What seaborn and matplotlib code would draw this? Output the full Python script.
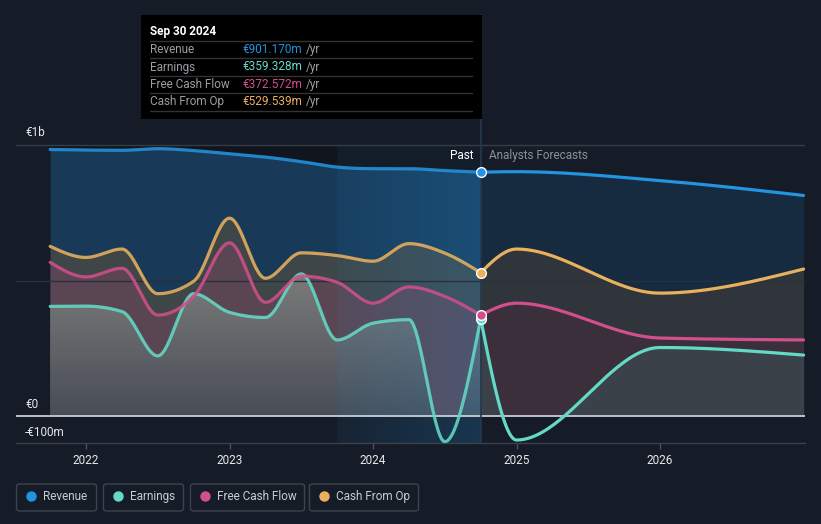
import numpy as np
import pandas as pd
import matplotlib
matplotlib.use("Agg")
import matplotlib.pyplot as plt
import seaborn as sns
from matplotlib.patches import Rectangle, FancyBboxPatch
from matplotlib.lines import Line2D

# ---------------- data (EUR m) ----------------
past_x = [2021.75, 2022.0, 2022.25, 2022.5, 2022.75, 2023.0, 2023.25, 2023.5,
          2023.75, 2024.0, 2024.25, 2024.5, 2024.75]
revenue_past = [985, 983, 982, 988, 981, 969, 957, 940, 920, 914, 914, 907, 901.17]
earnings_past = [405, 406, 386, 222, 452, 383, 364, 525, 281, 343, 356, -95, 359.33]
fcf_past = [568, 514, 546, 373, 442, 640, 420, 517, 494, 417, 477, 442, 372.57]
cfo_past = [627, 586, 617, 452, 498, 731, 509, 603, 593, 572, 637, 602, 529.54]

fc_x = [2024.75, 2025.0, 2026.0, 2027.0]
revenue_fc = [901.17, 903, 870, 815]
earnings_fc = [359.33, -89, 253, 225]
fcf_fc = [372.57, 417, 288, 281]
cfo_fc = [529.54, 617, 454, 543]

series_names = ["Revenue", "Earnings", "Free Cash Flow", "Cash From Op"]
series_colors = ["#2394df", "#64d9c6", "#d14f8b", "#e9b15d"]
tooltip_values = ["€901.170m", "€359.328m", "€372.572m", "€529.539m"]
year_ticks = [2022, 2023, 2024, 2025, 2026]
y_labels = {1000: "€1b", 0: "€0", -100: "-€100m"}

BG = "#161c27"
W, H = 821, 524


def monotone(x, y, per=80):
    """d3 curveMonotoneX style interpolation."""
    x = np.asarray(x, float)
    y = np.asarray(y, float)
    n = len(x)
    h = np.diff(x)
    s = np.diff(y) / h
    t = np.zeros(n)
    sg = lambda v: -1.0 if v < 0 else 1.0
    for i in range(1, n - 1):
        h0, h1, s0, s1 = h[i - 1], h[i], s[i - 1], s[i]
        p = (s0 * h1 + s1 * h0) / (h0 + h1)
        t[i] = (sg(s0) + sg(s1)) * min(abs(s0), abs(s1), 0.5 * abs(p))
    if n > 2:
        t[0] = (3 * s[0] - t[1]) / 2
        t[-1] = (3 * s[-1] - t[-2]) / 2
    else:
        t[:] = s[0]
    xs, ys = [], []
    for i in range(n - 1):
        u = np.linspace(0, 1, per, endpoint=(i == n - 2))
        h00 = 2 * u**3 - 3 * u**2 + 1
        h10 = u**3 - 2 * u**2 + u
        h01 = -2 * u**3 + 3 * u**2
        h11 = u**3 - u**2
        xs.append(x[i] + u * h[i])
        ys.append(h00 * y[i] + h10 * h[i] * t[i] + h01 * y[i + 1] + h11 * h[i] * t[i + 1])
    return np.concatenate(xs), np.concatenate(ys)


sns.set_theme(style="dark")
plt.rcParams["font.family"] = ["Roboto", "DejaVu Sans"]

fig = plt.figure(figsize=(W / 100, H / 100), dpi=100, facecolor=BG)


def fx(px):
    return px / W


def fy(py):
    return 1 - py / H


ax = fig.add_axes([fx(16), fy(443), (805 - 16) / W, (443 - 120) / H])
ax.set_facecolor(BG)
XMIN, XMAX = 2021.512, 2027.010
YMIN, YMAX = -100, 1094

past = {n: monotone(past_x, v) for n, v in zip(series_names, [revenue_past, earnings_past, fcf_past, cfo_past])}
fc = {n: monotone(fc_x, v) for n, v in zip(series_names, [revenue_fc, earnings_fc, fcf_fc, cfo_fc])}

# darker past background above revenue
xr, yr = past["Revenue"]
ax.fill_between(xr, yr, 1000, color="#10151e", lw=0, zorder=1)

# fills (opaque layers)
past_fill = {"Revenue": "#183a58", "Cash From Op": "#3f4647", "Free Cash Flow": "#5a4652"}
fc_fill = {"Revenue": "#162a40", "Cash From Op": "#2f353a", "Free Cash Flow": "#3b2f3c", "Earnings": "#3b4149"}
for name in ["Revenue", "Cash From Op", "Free Cash Flow"]:
    x, y = past[name]
    ax.fill_between(x, 0, np.maximum(y, 0), color=past_fill[name], lw=0, zorder=2)
    x, y = fc[name]
    ax.fill_between(x, 0, np.maximum(y, 0), color=fc_fill[name], lw=0, zorder=2)

# earnings past fill with vertical gradient
x, y = past["Earnings"]
poly = ax.fill_between(x, 0, np.maximum(y, 0), facecolor="none", lw=0, zorder=2)
top_c = np.array([0x7e, 0x7e, 0x7c]) / 255
bot_c = np.array([0x48, 0x4d, 0x56]) / 255
g = np.linspace(1, 0, 256)[:, None]
grad = (bot_c[None, :] * (1 - g) + top_c[None, :] * g)[:, None, :]
im = ax.imshow(grad, extent=[x[0], x[-1], 0, 560], aspect="auto", zorder=2.1, interpolation="bilinear")
im.set_clip_path(poly.get_paths()[0], transform=ax.transData)
x, y = fc["Earnings"]
ax.fill_between(x, 0, np.maximum(y, 0), color=fc_fill["Earnings"], lw=0, zorder=2)

# highlighted last-year band: horizontal alpha gradient, clipped under revenue
bx, by = monotone(past_x[-5:], revenue_past[-5:])
band = ax.fill_between(bx, YMIN, by, facecolor="none", lw=0, zorder=2.5)
rgba = np.zeros((2, 256, 4))
rgba[..., 0] = 0x23 / 255
rgba[..., 1] = 0x94 / 255
rgba[..., 2] = 0xdf / 255
rgba[..., 3] = np.linspace(0.07, 0.22, 256)[None, :]
bim = ax.imshow(rgba, extent=[bx[0], bx[-1], YMIN, 1000], aspect="auto", zorder=2.5,
                interpolation="bilinear")
bim.set_clip_path(band.get_paths()[0], transform=ax.transData)
# slightly lighter background above revenue inside band
ax.fill_between(bx, by, 1000, color="#1c3550", alpha=0.25, lw=0, zorder=2.5)

# grid lines
ax.axhline(1000, color="#363c46", lw=1, zorder=2.6)
ax.axhline(500, color="#2a303a", lw=1, zorder=2.6)
ax.axhline(0, color="#c9cdd2", lw=1.3, zorder=2.7)

# vertical "now" line
ax.axvline(2024.75, ymin=0, ymax=(443 - 15) / (443 - 120), color="#24384d", lw=1.2,
           clip_on=False, zorder=2.8)

# lines via seaborn
for name, col in zip(series_names, series_colors):
    for src, a in ((past, 0.88), (fc, 1.0)):
        x, y = src[name]
        df = pd.DataFrame({"x": x, "y": y})
        sns.lineplot(data=df, x="x", y="y", color=col, lw=2.3, alpha=a, ax=ax,
                     sort=False, estimator=None, zorder=4)

# markers at the latest reported point
for name, col, vals in zip(series_names, series_colors, [revenue_past, earnings_past, fcf_past, cfo_past]):
    ax.plot([past_x[-1]], [vals[-1]], "o", ms=7, mfc=col, mec="white", mew=1, zorder=5)

ax.set_xlim(XMIN, XMAX)
ax.set_ylim(YMIN, YMAX)
ax.set_xlabel("")
ax.set_ylabel("")
ax.set_yticks([])
ax.set_xticks(year_ticks)
ax.set_xticklabels([str(t) for t in year_ticks])
ax.tick_params(axis="x", length=4, width=1, color="#4a505a", labelcolor="#e6e8ea",
               labelsize=8.5, pad=4, bottom=True)
for side in ["top", "right", "left"]:
    ax.spines[side].set_visible(False)
ax.spines["bottom"].set_color("#3c424c")
ax.spines["bottom"].set_linewidth(1)
ax.grid(False)

# y labels
for val, py in [(1000, 132), (0, 405), (-100, 432)]:
    fig.text(fx(25), fy(py), y_labels[val], color="#e6e8ea", fontsize=8.5, ha="left", va="center")

# Past / forecast labels
fig.text(fx(473), fy(156), "Past", color="#ffffff", fontsize=8.5, ha="right", va="center")
fig.text(fx(489), fy(156), "Analysts Forecasts", color="#8c9199", fontsize=8.5, ha="left", va="center")

# tooltip
fig.patches.append(Rectangle((fx(141), fy(119)), (482 - 141) / W, (119 - 15) / H,
                             transform=fig.transFigure, facecolor="#000000", edgecolor="none", zorder=10))
fig.text(fx(150), fy(31), "Sep 30 2024", color="#ffffff", fontsize=8.5, fontweight="semibold",
         ha="left", va="center", zorder=11)
for sy in [41, 58, 76, 93, 111]:
    fig.add_artist(Line2D([fx(150), fx(472)], [fy(sy), fy(sy)], color="#333333", lw=1,
                          transform=fig.transFigure, zorder=11))
renderer = fig.canvas.get_renderer()
for i, (name, col, val) in enumerate(zip(series_names, series_colors, tooltip_values)):
    py = [49.5, 67, 84.5, 102][i]
    fig.text(fx(150), fy(py), name, color="#9a9ea4", fontsize=8.5, ha="left", va="center", zorder=11)
    vt = fig.text(fx(242), fy(py), val, color=col, fontsize=8.5, ha="left", va="center", zorder=11)
    ext = vt.get_window_extent(renderer)
    fig.text(ext.x1 / W + fx(4), fy(py), "/yr", color="#9a9ea4", fontsize=8.5, ha="left",
             va="center", zorder=11)

# legend boxes
legend_boxes = [(16, 97), (103, 184), (190, 305), (309, 419)]
for (x0, x1), name, col in zip(legend_boxes, series_names, series_colors):
    fig.patches.append(FancyBboxPatch((fx(x0 + 0.5), fy(511)), (x1 - x0 - 1) / W, (511 - 484) / H,
                                      boxstyle="round,pad=0,rounding_size=0.004",
                                      transform=fig.transFigure, facecolor="none",
                                      edgecolor="#3d434d", lw=1, zorder=10))
    fig.add_artist(Line2D([fx(x0 + 15)], [fy(496)], marker="o", ms=6.5, color=col, mec=col,
                          transform=fig.transFigure, zorder=11))
    fig.text(fx(x0 + 27), fy(496.5), name, color="#c9ccd0", fontsize=8.5, ha="left", va="center", zorder=11)

fig.savefig("out.png", dpi=100, facecolor=BG)
